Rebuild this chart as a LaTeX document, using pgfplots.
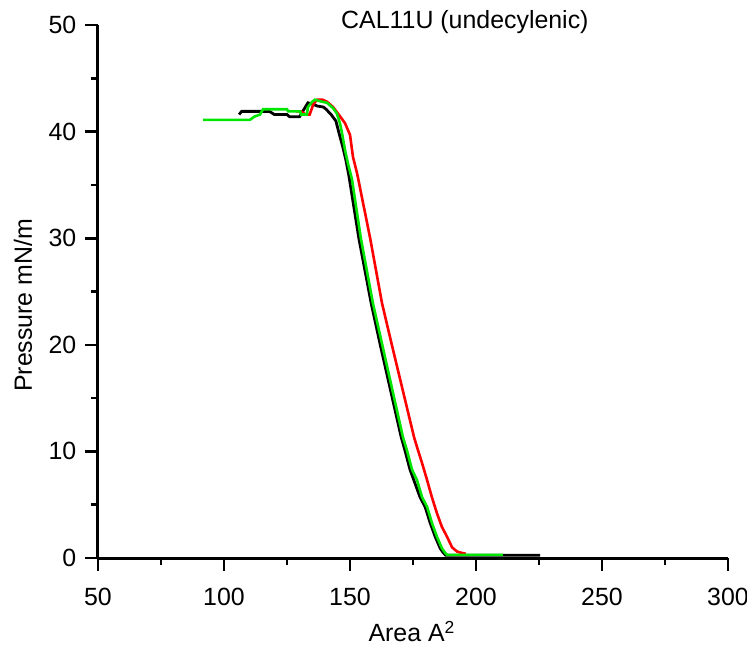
\documentclass[border=0pt]{standalone}
\usepackage{pgfplots}
\pgfplotsset{compat=1.18}
\usepackage{fontspec}
\setmainfont{Liberation Sans}
\definecolor{cgreen}{RGB}{0,230,0}
\definecolor{cred}{RGB}{255,0,0}
\begin{document}
\fontsize{12.5}{15}\selectfont
\begin{tikzpicture}
\path[use as bounding box] (-49bp,-44bp) rectangle (324.5bp,279bp);
\begin{axis}[
  at={(0,0)}, anchor=south west,
  scale only axis, width=315bp, height=266.5bp,
  xmin=50, xmax=300, ymin=0, ymax=50,
  axis lines=left, axis line style={-, line width=1.5bp},
  xtick={50,100,...,300}, ytick={0,10,...,50},
  minor xtick={75,125,...,275}, minor ytick={5,15,...,45},
  tick align=outside,
  major tick length=6.5bp, minor tick length=3.5bp,
  every tick/.style={black, line width=1.3bp},
  tick label style={font=\fontsize{12.5}{15}\selectfont},
  /pgf/number format/assume math mode=true,
  xticklabel style={yshift=-4bp},
  clip=false,
]
% black
\addplot[black, line width=1.4bp] coordinates {
(106,41.6) (107,41.9) (113,41.9) (118,41.9) (120,41.6) (125,41.6) (126,41.4) (130,41.4)
(131.5,42.0) (133.3,42.7) (135,42.6) (137,42.4) (139.5,42.3) (140.5,42.1) (142.5,41.6) (144.4,41.0)
(145.6,39.9) (147.2,38.5) (148.4,37.3) (149.6,35.8) (153.5,30.0) (158.4,23.9) (162,20.0)
(170.3,11.35) (171.8,10.1) (173.8,8.3) (177.8,5.7) (179.8,4.8) (181.8,3.3) (183.8,2.0)
(185.8,0.9) (187,0.5) (188,0.25) (225.4,0.25)
};
% red
\addplot[cred, line width=1.3bp] coordinates {
(128.5,41.9) (130.5,41.9) (132.5,41.6) (134,41.6) (135.5,42.6) (137,43.0) (139,43.0)
(140.9,42.8) (143.3,42.3) (145.2,41.7) (148,40.8) (150,39.7) (151.2,37.6) (152.8,36.1)
(158,30.0) (162.7,23.9) (166.6,20.0) (175.4,11.35) (176.6,10.4) (178.6,8.9) (180.6,7.3)
(182.5,5.7) (184.5,4.2) (186.5,2.9) (188.5,2.0) (190.5,1.0) (192.5,0.6) (194.8,0.45) (196,0.4)
};
% green
\addplot[cgreen, line width=1.3bp] coordinates {
(91.7,41.1) (110.3,41.1) (112,41.4) (114.3,41.6) (115.5,42.1) (125,42.1) (125.5,41.9)
(130.2,41.9) (130.6,41.6) (132.9,41.6) (133.3,42.3) (135,42.8) (136.1,43.0) (137.3,42.9)
(139,42.8) (140.9,42.7) (143.3,42.2) (144.8,41.7) (146.0,40.8) (146.8,39.9) (148.0,38.3)
(149.2,37.0) (150.8,35.5) (154.3,30.0) (159.1,23.9) (162.8,20.0) (171,11.35) (172.6,10.1)
(174.6,8.3) (176.6,7.3) (178.6,5.7) (180.6,4.8) (182.5,3.3) (184.5,2.0) (186.5,0.9)
(187.7,0.5) (188.5,0.3) (210.7,0.3)
};
\node at (axis cs:195.6,50.3) {CAL11U (undecylenic)};
\node[rotate=90] at (axis cs:20.2,23.7) {Pressure mN/m};
\node at (axis cs:174.6,-6.9) {Area A\textsuperscript{2}};
\end{axis}
\end{tikzpicture}
\end{document}
